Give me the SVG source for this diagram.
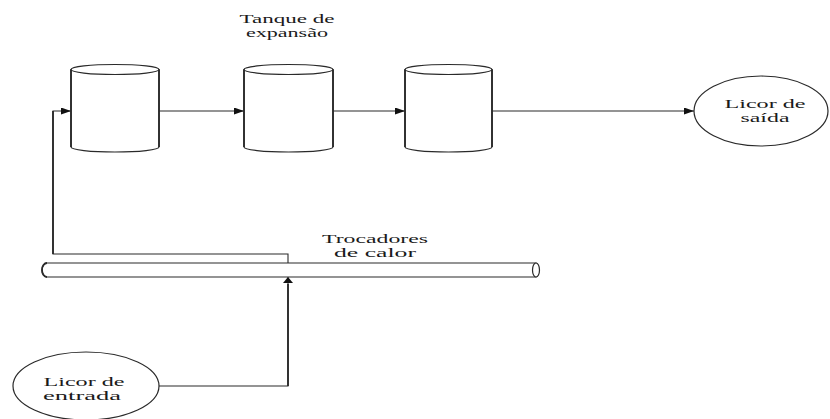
<svg xmlns="http://www.w3.org/2000/svg" width="830" height="419" viewBox="0 0 830 419">
<style>
  .ln{fill:none;stroke:#2a2a2a;stroke-width:1.1}
  .vt{fill:none;stroke:#2a2a2a;stroke-width:1.8}
  .sh{fill:#fff;stroke:#2a2a2a;stroke-width:1.2}
  .tx{font-size:13.5px;fill:#1a1a1a;text-anchor:middle}
</style>
<defs>
  <marker id="ah" markerUnits="userSpaceOnUse" markerWidth="10" markerHeight="7" refX="10" refY="3.5" orient="auto">
    <path d="M0,0 L10,3.5 L0,7 z" fill="#111"/>
  </marker>
  <marker id="au" markerUnits="userSpaceOnUse" markerWidth="6" markerHeight="10" refX="6" refY="5" orient="auto">
    <path d="M0,0 L6,5 L0,10 z" fill="#111"/>
  </marker>
</defs>
<rect width="830" height="419" fill="#fff"/>

<g id="connectors">
  <path class="ln" d="M159,111 H244" marker-end="url(#ah)"/>
  <path class="ln" d="M333,111 H405" marker-end="url(#ah)"/>
  <path class="ln" d="M492,111 H694" marker-end="url(#ah)"/>
  <path class="ln" d="M288,263 V254 H53 V111 H71" marker-end="url(#ah)"/>
  <path class="vt" d="M53,254 V111"/>
  <path class="ln" d="M159,386 H288 V277" marker-end="url(#au)"/>
  <path class="vt" d="M288,386 V284"/>
</g>

<g font-family="'Liberation Serif', 'Times New Roman', 'DejaVu Serif', serif">
<g id="tank1">
  <path class="sh" d="M71,69.5 V147 A44,5 0 0 0 159,147 V69.5 z"/>
  <ellipse class="sh" cx="115" cy="69.5" rx="44" ry="5"/>
  <path class="vt" d="M71,69.5 V147 M159,69.5 V147"/>
</g>
<g id="tank2">
  <path class="sh" d="M244,69.5 V147 A44.5,5 0 0 0 333,147 V69.5 z"/>
  <ellipse class="sh" cx="288.5" cy="69.5" rx="44.5" ry="5"/>
  <path class="vt" d="M244,69.5 V147 M333,69.5 V147"/>
</g>
<g id="tank3">
  <path class="sh" d="M405,69.5 V147 A43.5,5 0 0 0 492,147 V69.5 z"/>
  <ellipse class="sh" cx="448.5" cy="69.5" rx="43.5" ry="5"/>
  <path class="vt" d="M405,69.5 V147 M492,69.5 V147"/>
</g>
<g id="label-tanque">
  <text class="tx" x="287" y="23" textLength="95" lengthAdjust="spacingAndGlyphs">Tanque de</text>
  <text class="tx" x="287" y="37" textLength="82" lengthAdjust="spacingAndGlyphs">expansão</text>
</g>

<g id="licor-saida">
  <ellipse class="sh" cx="761" cy="111" rx="67" ry="35"/>
  <text class="tx" x="765" y="108" textLength="81" lengthAdjust="spacingAndGlyphs">Licor de</text>
  <text class="tx" x="765" y="122" textLength="49" lengthAdjust="spacingAndGlyphs">saída</text>
</g>

<g id="trocadores">
  <path class="sh" d="M47,263 H536 V277 H47 A5,7 0 0 1 47,263 z"/>
  <ellipse class="sh" cx="536" cy="270" rx="3.5" ry="7"/>
  <path class="vt" d="M47,263 A5,7 0 0 0 47,277"/>
  <text class="tx" x="375" y="243" textLength="106" lengthAdjust="spacingAndGlyphs">Trocadores</text>
  <text class="tx" x="375" y="257" textLength="82" lengthAdjust="spacingAndGlyphs">de calor</text>
</g>

<g id="licor-entrada">
  <ellipse class="sh" cx="86" cy="386" rx="73" ry="34"/>
  <text class="tx" x="84" y="386" textLength="81" lengthAdjust="spacingAndGlyphs">Licor de</text>
  <text class="tx" x="82" y="400" textLength="78" lengthAdjust="spacingAndGlyphs">entrada</text>
</g>
</g>
</svg>
